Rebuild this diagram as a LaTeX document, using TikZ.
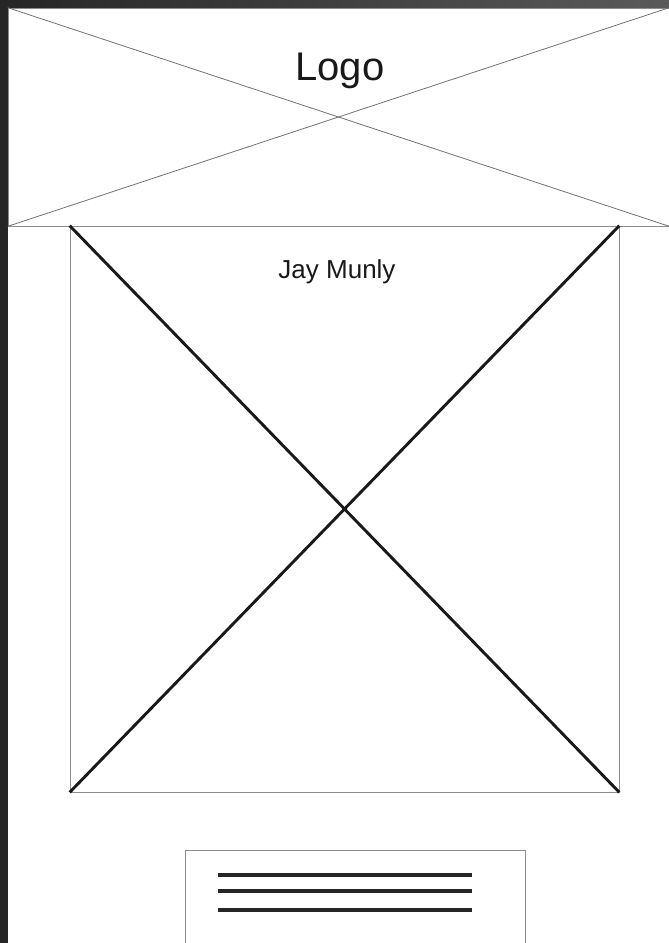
\documentclass[tikz,border=0pt]{standalone}
\usepackage{fontspec}
\setmainfont{Liberation Sans}
\usetikzlibrary{positioning}
\definecolor{frame}{HTML}{262626}
\definecolor{framelight}{HTML}{5A5A5A}
\tikzset{
  panel/.style={draw=black!45, line width=0.7pt, fill=none, inner sep=0pt},
  cross/.style={draw=black!55, line width=0.8pt},
  bigcross/.style={draw=black!90, line width=2.9pt},
  textline/.style={draw=black!85, line width=3.2pt},
  logotext/.style={font=\fontsize{40}{40}\selectfont, text=black!90},
  bandtext/.style={font=\fontsize{26}{26}\selectfont, text=black!90}
}

\begin{document}
\begin{tikzpicture}[x=1pt, y=-1pt]
  \useasboundingbox (0,0) rectangle (669,943);
  \fill[white] (0,0) rectangle (669,943);
  % dark frame
  \fill[frame] (0,0) rectangle (8,943);
  \shade[left color=frame, right color=framelight] (0,0) rectangle (669,8);

  % header
  \node[panel, minimum width=661pt, minimum height=218pt] (header) at (338.5,117) {};
  \draw[cross] (header.north west) -- (header.south east);
  \draw[cross] (header.south west) -- (header.north east);
  \node[logotext] (logo) at (340,71) {Logo};

  % image
  \node[panel, minimum width=549pt, minimum height=566pt] (photo) at (344.5,509) {};
  \draw[bigcross] (photo.north west) -- (photo.south east);
  \draw[bigcross] (photo.north east) -- (photo.south west);
  \node[bandtext] (artist) at (337,272) {Jay Munly};

  % text block
  \node[panel, minimum width=340pt, minimum height=120pt] (blurb) at (355,910) {};
  \coordinate (l1a) at (218,875); \coordinate (l1b) at (472,875);
  \coordinate (l2a) at (218,891); \coordinate (l2b) at (472,891);
  \coordinate (l3a) at (218,910); \coordinate (l3b) at (472,910);
  \draw[textline] (l1a) -- (l1b);
  \draw[textline] (l2a) -- (l2b);
  \draw[textline] (l3a) -- (l3b);
\end{tikzpicture}
\end{document}
